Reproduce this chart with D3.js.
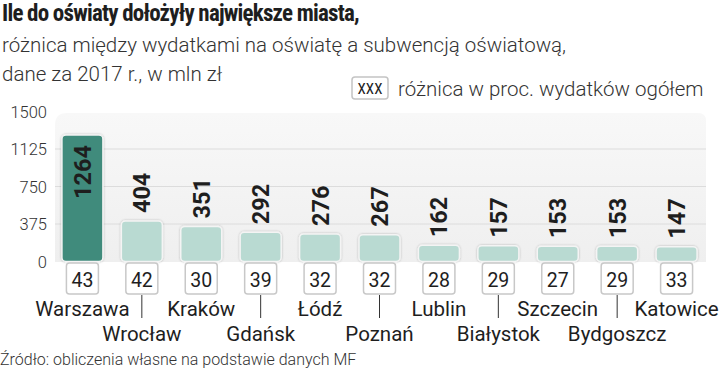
<!DOCTYPE html>
<html>
<head>
<meta charset="utf-8">
<script src="https://cdn.jsdelivr.net/npm/d3@7"></script>
<style>
  body { margin: 0; background: #fff; }
  svg { display: block; }
  text { font-family: Roboto, "Noto Sans", sans-serif; }
  .cond { font-family: "Liberation Sans Narrow", "Roboto Condensed", Roboto, sans-serif; }
</style>
</head>
<body>
<div id="chart"></div>
<script>
// data
var cities = ["Warszawa", "Wrocław", "Kraków", "Gdańsk", "Łódź", "Poznań",
              "Lublin", "Białystok", "Szczecin", "Bydgoszcz", "Katowice"];
var diffValues = [1264, 404, 351, 292, 276, 267, 162, 157, 153, 153, 147];
var pctValues = [43, 42, 30, 39, 32, 32, 28, 29, 27, 29, 33];
var yTicks = [0, 375, 750, 1125, 1500];

var width = 720, height = 372;

var svg = d3.select("#chart").append("svg")
    .attr("width", width)
    .attr("height", height);

var defs = svg.append("defs");
var grad = defs.append("linearGradient")
    .attr("id", "panelGrad")
    .attr("x1", 0).attr("y1", 0).attr("x2", 0).attr("y2", 1);
grad.append("stop").attr("offset", "0%").attr("stop-color", "#f8f8f8");
grad.append("stop").attr("offset", "100%").attr("stop-color", "#efefef");

var shadow = defs.append("filter").attr("id", "shadow")
    .attr("x", "-20%").attr("y", "-20%").attr("width", "140%").attr("height", "140%");
shadow.append("feDropShadow")
    .attr("dx", 0).attr("dy", 0).attr("stdDeviation", 1)
    .attr("flood-color", "#000").attr("flood-opacity", 0.25);

// scales
var xScale = d3.scaleBand()
    .domain(cities)
    .range([53, 706])
    .paddingInner(0.31)
    .paddingOuter(0.15);

var yScale = d3.scaleLinear()
    .domain([0, 1500])
    .range([261.5, 111.5]);

// title block
svg.append("text")
    .attr("class", "cond")
    .attr("x", 2).attr("y", 21)
    .attr("font-size", 23).attr("font-weight", "bold")
    .attr("letter-spacing", -0.8)
    .attr("fill", "#1e1e1e")
    .text("Ile do oświaty dołożyły największe miasta,");

svg.append("text")
    .attr("x", 2).attr("y", 52)
    .attr("font-size", 20.5).attr("font-weight", 300).attr("fill", "#333")
    .text("różnica między wydatkami na oświatę a subwencją oświatową,");

svg.append("text")
    .attr("x", 2).attr("y", 81)
    .attr("font-size", 20.5).attr("font-weight", 300).attr("fill", "#333")
    .text("dane za 2017 r., w mln zł");

// legend
var legend = svg.append("g").attr("transform", "translate(352,77)");
legend.append("rect")
    .attr("width", 36).attr("height", 22).attr("rx", 3)
    .attr("fill", "#fff").attr("stroke", "#c4c4c4").attr("stroke-width", 1.5);
legend.append("text")
    .attr("class", "cond")
    .attr("x", 18).attr("y", 17)
    .attr("text-anchor", "middle")
    .attr("font-size", 15).attr("fill", "#222")
    .text("XXX");
legend.append("text")
    .attr("x", 46).attr("y", 19)
    .attr("font-size", 20.5).attr("font-weight", 300).attr("fill", "#333")
    .text("różnica w proc. wydatków ogółem");

// background panel
svg.append("path")
    .attr("d", "M55,262 L55,125 Q55,113 67,113 L698,113 Q706,113 706,121 L706,262 Z")
    .attr("fill", "url(#panelGrad)");

// gridlines
svg.append("g")
    .selectAll("line")
    .data(yTicks.filter(d => d > 0 && d < 1500))
    .enter()
    .append("line")
    .attr("x1", 55).attr("x2", 706)
    .attr("y1", d => yScale(d))
    .attr("y2", d => yScale(d))
    .attr("stroke", "#dcdcdc")
    .attr("stroke-width", 1);

// y axis labels
svg.append("g")
    .selectAll("text")
    .data(yTicks)
    .enter()
    .append("text")
    .attr("x", 47)
    .attr("y", d => yScale(d) + 6)
    .attr("text-anchor", "end")
    .attr("font-size", 16.5)
    .attr("font-weight", 300)
    .attr("fill", "#333")
    .text(d => d);

// bars
svg.append("g")
    .selectAll("rect")
    .data(diffValues)
    .enter()
    .append("rect")
    .attr("x", (d, i) => xScale(cities[i]))
    .attr("y", d => yScale(d))
    .attr("width", xScale.bandwidth())
    .attr("height", d => yScale(0) - yScale(d))
    .attr("rx", 4)
    .attr("fill", (d, i) => i === 0 ? "#3f8b7c" : "#b9dad2")
    .attr("stroke", "#f4f4f4")
    .attr("stroke-width", 1.5)
    .attr("filter", "url(#shadow)");

// value labels (rotated)
svg.append("g")
    .selectAll("text")
    .data(diffValues)
    .enter()
    .append("text")
    .attr("transform", function(d, i) {
        var cx = xScale(cities[i]) + xScale.bandwidth() / 2 + 8.5;
        var y = i === 0 ? yScale(d) + 10 : yScale(d) - 8;
        return "translate(" + cx + "," + y + ") rotate(-90)";
    })
    .attr("text-anchor", (d, i) => i === 0 ? "end" : "start")
    .attr("font-size", 23.5)
    .attr("font-weight", "bold")
    .attr("fill", "#1e1e1e")
    .text(d => d);

// percent boxes
var pct = svg.append("g")
    .selectAll("g")
    .data(pctValues)
    .enter()
    .append("g")
    .attr("transform", (d, i) => "translate(" + (xScale(cities[i]) + xScale.bandwidth() / 2) + ",0)");

pct.append("rect")
    .attr("x", -16).attr("y", 263)
    .attr("width", 32).attr("height", 31)
    .attr("rx", 3)
    .attr("fill", "#fff")
    .attr("stroke", "#c8c8c8")
    .attr("stroke-width", 1.5);

pct.append("text")
    .attr("y", 287)
    .attr("text-anchor", "middle")
    .attr("font-size", 19.5)
    .attr("fill", "#1e1e1e")
    .text(d => d);

// city labels, alternating rows
var labels = svg.append("g")
    .selectAll("g")
    .data(cities)
    .enter()
    .append("g")
    .attr("transform", d => "translate(" + (xScale(d) + xScale.bandwidth() / 2) + ",0)");

labels.filter((d, i) => i % 2 === 1)
    .append("line")
    .attr("x1", 0).attr("x2", 0)
    .attr("y1", 295).attr("y2", 318)
    .attr("stroke", "#333")
    .attr("stroke-width", 1);

labels.append("text")
    .attr("y", (d, i) => i % 2 === 0 ? 316 : 341)
    .attr("text-anchor", "middle")
    .attr("font-size", 20.5)
    .attr("fill", "#1e1e1e")
    .text(d => d);

// source
svg.append("text")
    .attr("x", 0).attr("y", 365)
    .attr("font-size", 16)
    .attr("font-weight", 300)
    .attr("fill", "#333")
    .text("Źródło: obliczenia własne na podstawie danych MF");
</script>
</body>
</html>
